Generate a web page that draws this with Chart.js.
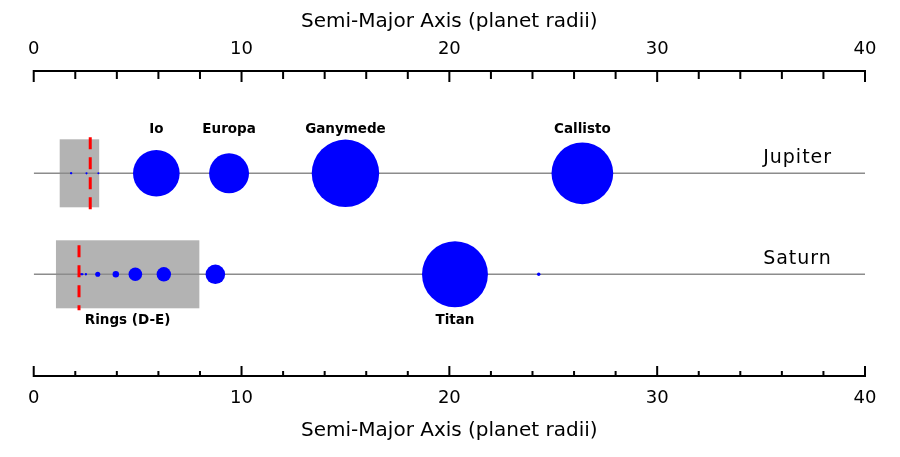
<!DOCTYPE html>
<html><head><meta charset="utf-8">
<script src="https://cdn.jsdelivr.net/npm/chart.js@4/dist/chart.umd.min.js"></script>
<style>html,body{margin:0;padding:0;background:#fff}#wrap{width:900px;height:457px;position:relative}</style>
</head><body><div id="wrap"><canvas id="c" width="900" height="457"></canvas></div>
<script>
// ---------- data ----------
const axisTitle = "Semi-Major Axis (planet radii)";
const majorTicks = [0, 10, 20, 30, 40];
const minorTicks = [2, 4, 6, 8, 12, 14, 16, 18, 22, 24, 26, 28, 32, 34, 36, 38];

const planetNames = ["Jupiter", "Saturn"];
const planetRows = [1, 0];

const jupiterMoonNames = ["Metis", "Adrastea", "Amalthea", "Thebe", "Io", "Europa", "Ganymede", "Callisto"];
const jupiterMoonA = [1.79, 1.81, 2.54, 3.11, 5.9, 9.4, 15.0, 26.4];
const jupiterMoonRkm = [21.5, 8.2, 83.5, 49.3, 1821.6, 1560.8, 2634.1, 2410.3];
const jupiterLabeled = ["Io", "Europa", "Ganymede", "Callisto"];
const jupiterRings = [1.25, 3.15];
const jupiterRoche = 2.72;

const saturnMoonNames = ["Pan", "Atlas", "Prometheus", "Pandora", "Epimetheus", "Janus", "Mimas", "Enceladus", "Tethys", "Dione", "Rhea", "Titan", "Hyperion"];
const saturnMoonA = [2.22, 2.28, 2.31, 2.35, 2.51, 2.51, 3.08, 3.95, 4.89, 6.26, 8.74, 20.27, 24.3];
const saturnMoonRkm = [14.1, 15.1, 43.1, 40.7, 58.1, 89.5, 198.2, 252.1, 531.1, 561.4, 763.8, 2574.7, 135];
const saturnLabeled = ["Titan"];
const saturnRings = [1.07, 7.97];
const saturnRoche = 2.18;
const saturnRingLabel = "Rings (D-E)";

// ---------- style constants ----------
const PX_PER_KM = 0.0128;
const FONT = "'DejaVu Sans', sans-serif";
const BLUE = '#0000ff';
const RING_HALF_PX = 34;
const PLANET_LABEL_X = 35.1;

function bubbles(a, rkm, row) {
  return a.map((v, i) => ({ x: v, y: row, r: Math.max(1, rkm[i] * PX_PER_KM) }));
}

const systems = [
  { row: planetRows[0], name: planetNames[0], names: jupiterMoonNames, a: jupiterMoonA, labeled: jupiterLabeled, labelAbove: true, rings: jupiterRings, roche: jupiterRoche, ringLabel: null, dashOffset: 0 },
  { row: planetRows[1], name: planetNames[1], names: saturnMoonNames, a: saturnMoonA, labeled: saturnLabeled, labelAbove: false, rings: saturnRings, roche: saturnRoche, ringLabel: saturnRingLabel, dashOffset: 13 }
];

const decor = {
  id: 'decor',
  beforeDatasetsDraw(chart) {
    const { ctx, scales: { x, y } } = chart;
    ctx.save();
    ctx.fillStyle = '#b3b3b3';
    systems.forEach(s => {
      const x0 = x.getPixelForValue(s.rings[0]);
      const x1 = x.getPixelForValue(s.rings[1]);
      const yc = y.getPixelForValue(s.row);
      ctx.fillRect(x0, yc - RING_HALF_PX, x1 - x0, RING_HALF_PX * 2);
    });
    ctx.restore();
  },
  afterDatasetsDraw(chart) {
    const { ctx, scales: { x, y } } = chart;
    ctx.save();
    // Roche limit dashes
    ctx.strokeStyle = '#ff0000';
    ctx.lineWidth = 3;
    ctx.setLineDash([12, 8]);
    systems.forEach(s => {
      const xp = x.getPixelForValue(s.roche);
      const yc = y.getPixelForValue(s.row);
      ctx.lineDashOffset = s.dashOffset;
      ctx.beginPath();
      ctx.moveTo(xp, yc - RING_HALF_PX - 2);
      ctx.lineTo(xp, yc + RING_HALF_PX + 2);
      ctx.stroke();
    });
    ctx.setLineDash([]);
    // moon labels
    ctx.fillStyle = '#000';
    ctx.textAlign = 'center';
    ctx.textBaseline = 'middle';
    ctx.font = "bold 13.5px " + FONT;
    systems.forEach(s => {
      const yc = y.getPixelForValue(s.row);
      s.labeled.forEach(n => {
        const i = s.names.indexOf(n);
        const xp = x.getPixelForValue(s.a[i]);
        ctx.fillText(n, xp, s.labelAbove ? yc - 44 : yc + 46);
      });
      if (s.ringLabel) {
        const xm = x.getPixelForValue((s.rings[0] + s.rings[1]) / 2);
        ctx.fillText(s.ringLabel, xm, yc + 46);
      }
    });
    // planet labels
    ctx.font = "19px " + FONT;
    ctx.textAlign = 'left';
    try { ctx.letterSpacing = '1px'; } catch (e) {}
    systems.forEach(s => {
      const yc = y.getPixelForValue(s.row);
      ctx.fillText(s.name, x.getPixelForValue(PLANET_LABEL_X), yc - 15);
    });
    ctx.restore();
  },
  afterDraw(chart) {
    const { ctx, scales: { x, x2 } } = chart;
    ctx.save();
    ctx.strokeStyle = '#000';
    ctx.lineWidth = 2;
    const specs = [
      { sc: x2, base: x2.bottom, dir: 1, major: 11, minor: 8 },
      { sc: x, base: x.top, dir: -1, major: 10, minor: 5 }
    ];
    specs.forEach(sp => {
      const xa = sp.sc.getPixelForValue(sp.sc.min);
      const xb = sp.sc.getPixelForValue(sp.sc.max);
      ctx.beginPath();
      ctx.moveTo(xa - 1, sp.base);
      ctx.lineTo(xb + 1, sp.base);
      majorTicks.forEach(v => {
        const p = sp.sc.getPixelForValue(v);
        ctx.moveTo(p, sp.base);
        ctx.lineTo(p, sp.base + sp.dir * sp.major);
      });
      minorTicks.forEach(v => {
        const p = sp.sc.getPixelForValue(v);
        ctx.moveTo(p, sp.base);
        ctx.lineTo(p, sp.base + sp.dir * sp.minor);
      });
      ctx.stroke();
    });
    ctx.restore();
  }
};

const lineStyle = { type: 'line', borderColor: '#8c8c8c', borderWidth: 1.5, pointRadius: 0, pointHoverRadius: 0, fill: false, order: 2 };

const chart = new Chart(document.getElementById('c'), {
  type: 'bubble',
  data: {
    datasets: [
      { label: 'Jupiter moons', data: bubbles(jupiterMoonA, jupiterMoonRkm, planetRows[0]), backgroundColor: BLUE, borderWidth: 0, hoverRadius: 0, order: 0 },
      { label: 'Saturn moons', data: bubbles(saturnMoonA, saturnMoonRkm, planetRows[1]), backgroundColor: BLUE, borderWidth: 0, hoverRadius: 0, order: 0 },
      Object.assign({ label: 'Jupiter', data: [{ x: majorTicks[0], y: planetRows[0] }, { x: majorTicks[majorTicks.length - 1], y: planetRows[0] }] }, lineStyle),
      Object.assign({ label: 'Saturn', data: [{ x: majorTicks[0], y: planetRows[1] }, { x: majorTicks[majorTicks.length - 1], y: planetRows[1] }] }, lineStyle)
    ]
  },
  options: {
    responsive: false,
    animation: false,
    events: [],
    layout: { padding: { left: 33, right: 35, top: 0, bottom: 0 } },
    plugins: { legend: { display: false }, tooltip: { enabled: false } },
    scales: {
      x: {
        type: 'linear', position: 'bottom', min: 0, max: 40,
        grid: { display: false }, border: { display: false },
        ticks: { stepSize: 10, color: '#000', padding: 4, font: { family: FONT, size: 18 } },
        title: { display: true, text: axisTitle, color: '#000', font: { family: FONT, size: 20 }, padding: { top: 0, bottom: 14 } },
        afterFit: s => { s.height = 81; }
      },
      x2: {
        type: 'linear', axis: 'x', position: 'top', min: 0, max: 40,
        grid: { display: false }, border: { display: false },
        ticks: { stepSize: 10, color: '#000', padding: 3, font: { family: FONT, size: 18 } },
        title: { display: true, text: axisTitle, color: '#000', font: { family: FONT, size: 20 }, padding: { top: 10, bottom: 0 } },
        afterFit: s => { s.height = 71; }
      },
      y: { type: 'linear', display: false, min: -1.007, max: 2.013 }
    }
  },
  plugins: [decor]
});
</script>
</body></html>
